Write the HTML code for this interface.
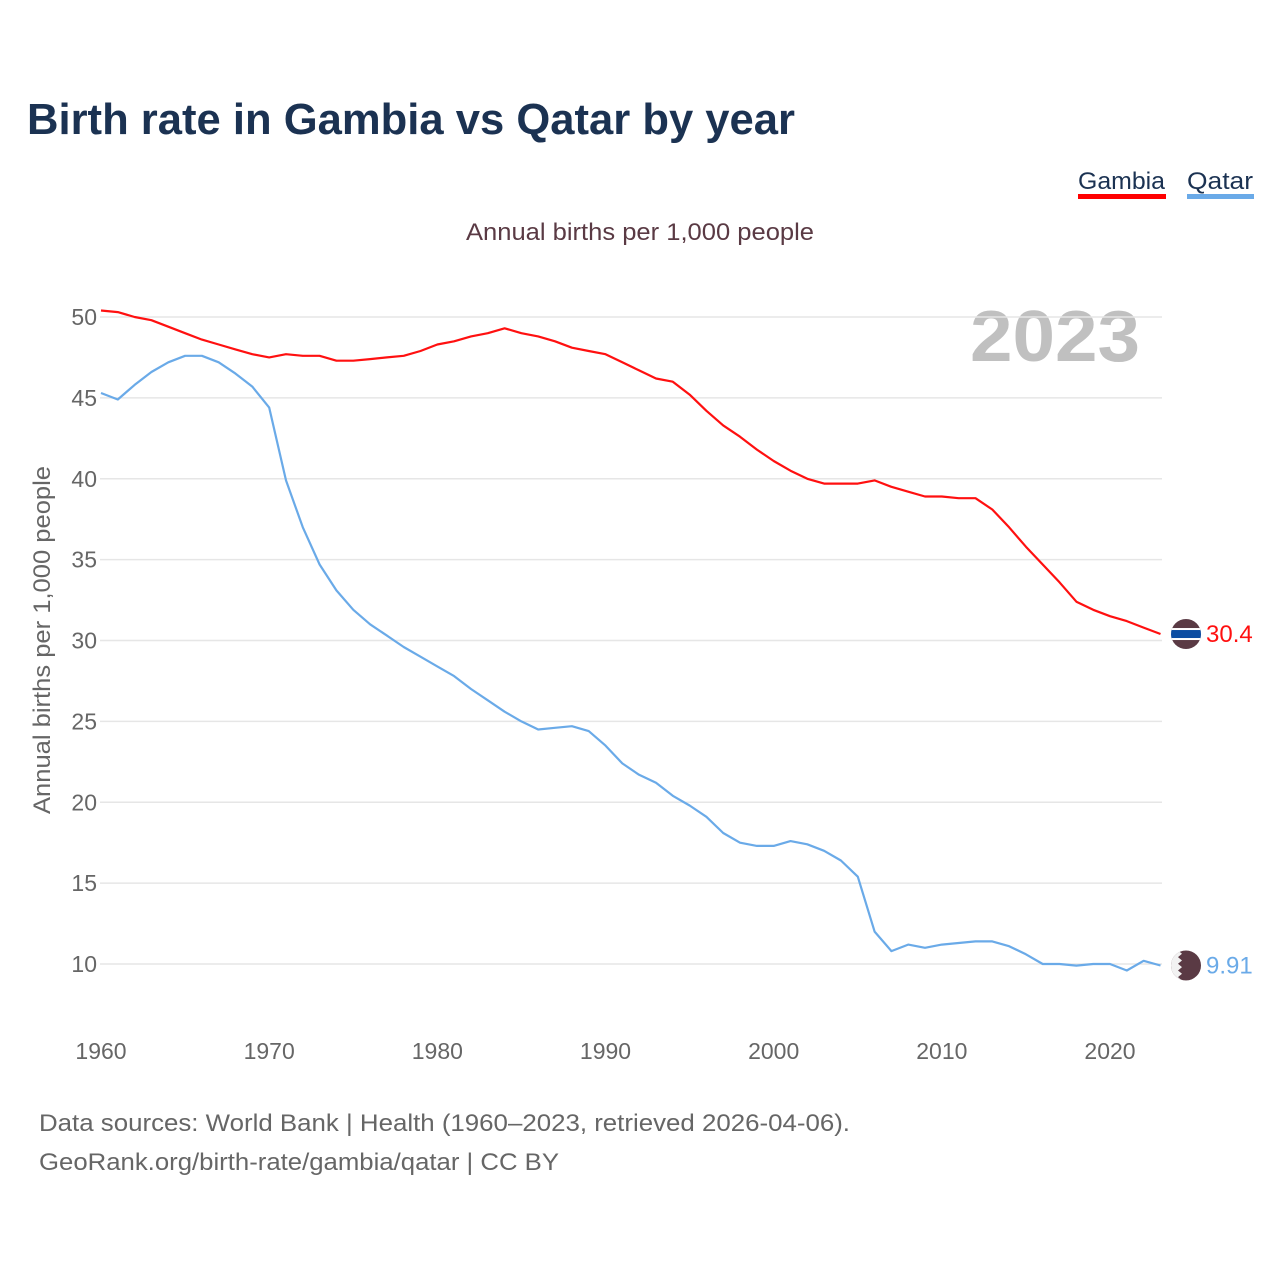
<!DOCTYPE html>
<html><head><meta charset="utf-8">
<style>
html,body{margin:0;padding:0;background:#fff;}
body{width:1280px;height:1280px;position:relative;font-family:"Liberation Sans",sans-serif;overflow:hidden;}
</style></head>
<body>
<svg id="chart" width="1280" height="1280" xmlns="http://www.w3.org/2000/svg" style="position:absolute;left:0;top:0">
<text x="27" y="134" font-size="44" font-weight="bold" fill="#1b3252" textLength="768" lengthAdjust="spacingAndGlyphs" font-family="Liberation Sans, sans-serif">Birth rate in Gambia vs Qatar by year</text>
<g>
<g>
<text x="1078" y="189" font-size="24" fill="#1b3252" textLength="87" lengthAdjust="spacingAndGlyphs">Gambia</text>
<rect x="1078" y="194" width="88" height="5" fill="#ff0000"/>
</g>
<g>
<text x="1187" y="189" font-size="24" fill="#1b3252" textLength="66" lengthAdjust="spacingAndGlyphs">Qatar</text>
<rect x="1187" y="194" width="67" height="5" fill="#6aaae8"/>
</g>
</g>
<text x="640" y="240" font-size="24" fill="#5a3a44" text-anchor="middle" textLength="348" lengthAdjust="spacingAndGlyphs">Annual births per 1,000 people</text>
<text x="1140" y="361" font-size="72" font-weight="bold" fill="#c0c0c0" text-anchor="end" textLength="170" lengthAdjust="spacingAndGlyphs">2023</text>
<text transform="translate(50,640) rotate(-90)" font-size="24" fill="#666" text-anchor="middle" textLength="348" lengthAdjust="spacingAndGlyphs">Annual births per 1,000 people</text>
<g id="grid"></g><g id="yticks"></g><g id="xticks"></g><g id="series"></g>
<text x="39" y="1131" font-size="24" fill="#666" textLength="811" lengthAdjust="spacingAndGlyphs">Data sources: World Bank | Health (1960–2023, retrieved 2026-04-06).</text>
<text x="39" y="1170" font-size="24" fill="#666" textLength="520" lengthAdjust="spacingAndGlyphs">GeoRank.org/birth-rate/gambia/qatar | CC BY</text>
</svg>
<script>
const years=[];for(let y=1960;y<=2023;y++)years.push(y);
const gambia=[50.4,50.3,50.0,49.8,49.4,49.0,48.6,48.3,48.0,47.7,47.5,47.7,47.6,47.6,47.3,47.3,47.4,47.5,47.6,47.9,48.3,48.5,48.8,49.0,49.3,49.0,48.8,48.5,48.1,47.9,47.7,47.2,46.7,46.2,46.0,45.2,44.2,43.3,42.6,41.8,41.1,40.5,40.0,39.7,39.7,39.7,39.9,39.5,39.2,38.9,38.9,38.8,38.8,38.1,37.0,35.8,34.7,33.6,32.4,31.9,31.5,31.2,30.8,30.4];
const qatar=[45.3,44.9,45.8,46.6,47.2,47.6,47.6,47.2,46.5,45.7,44.4,39.9,37.0,34.7,33.1,31.9,31.0,30.3,29.6,29.0,28.4,27.8,27.0,26.3,25.6,25.0,24.5,24.6,24.7,24.4,23.5,22.4,21.7,21.2,20.4,19.8,19.1,18.1,17.5,17.3,17.3,17.6,17.4,17.0,16.4,15.4,12.0,10.8,11.2,11.0,11.2,11.3,11.4,11.4,11.1,10.6,10.0,10.0,9.9,10.0,10.0,9.6,10.2,9.91];
const yTicks=[10,15,20,25,30,35,40,45,50];
const xTicks=[1960,1970,1980,1990,2000,2010,2020];
const X=v=>101+(v-1960)*(1110-101)/60;
const Y=v=>964-(v-10)*(964-317)/40;
const NS="http://www.w3.org/2000/svg";
function mk(t,a,p){const e=document.createElementNS(NS,t);for(const k in a)e.setAttribute(k,a[k]);p.appendChild(e);return e;}
const grid=document.getElementById('grid'),yt=document.getElementById('yticks'),xt=document.getElementById('xticks'),ser=document.getElementById('series');
yTicks.forEach(v=>{
 const l=mk('line',{x1:100,x2:1162,y1:Y(v),y2:Y(v),stroke:'#e6e6e6','stroke-width':1.5},grid);
 
 
 const t=mk('text',{x:97,y:Y(v)+8,'font-size':23,fill:'#666','text-anchor':'end'},yt);t.textContent=v;
 
 
});
xTicks.forEach(v=>{
 const t=mk('text',{x:X(v),y:1059,'font-size':23,fill:'#666','text-anchor':'middle'},xt);t.textContent=v;
 
 
});
function line(data,color,name){
 const d=data.map((v,i)=>(i?'L':'M')+X(years[i]).toFixed(1)+','+Y(v).toFixed(1)).join('');
 const p=mk('path',{d:d,fill:'none',stroke:color,'stroke-width':2.2,'stroke-linejoin':'round'},ser);
 
 
}
line(gambia,'#ff1010','gambia-line');
line(qatar,'#6aaae8','qatar-line');
const last=years.length-1,fx=1186;
const gy=Y(gambia[last]);
const gf=mk('g',{},ser);


const cp=mk('clipPath',{id:'cg'},gf);mk('circle',{cx:fx,cy:gy,r:15},cp);
const gg=mk('g',{'clip-path':'url(#cg)'},gf);
mk('rect',{x:fx-15,y:gy-15,width:30,height:30,fill:'#5a3a44'},gg);
mk('rect',{x:fx-15,y:gy-6,width:30,height:12,fill:'#fff'},gg);
mk('rect',{x:fx-15,y:gy-4,width:30,height:8,fill:'#0c4da2'},gg);
const gl=mk('text',{x:1206,y:gy+8,'font-size':24,fill:'#ff1010'},ser);gl.textContent=gambia[last];


const qy=Y(qatar[last]);
const qf=mk('g',{},ser);


const cq=mk('clipPath',{id:'cq'},qf);mk('circle',{cx:fx,cy:qy,r:15},cq);
const qg=mk('g',{'clip-path':'url(#cq)'},qf);
mk('rect',{x:fx-15,y:qy-15,width:30,height:30,fill:'#5a3a44'},qg);
let pts=`${fx-15},${qy-15} `;for(let i=0;i<=9;i++){const yy=qy-15+i*30/9;pts+=`${i%2?fx-4:fx-8},${yy} `;}pts+=`${fx-15},${qy+15}`;
mk('polygon',{points:pts,fill:'#f2f2f2'},qg);
const ql=mk('text',{x:1206,y:qy+8,'font-size':24,fill:'#6aaae8'},ser);ql.textContent=qatar[last];


</script>
</body></html>
